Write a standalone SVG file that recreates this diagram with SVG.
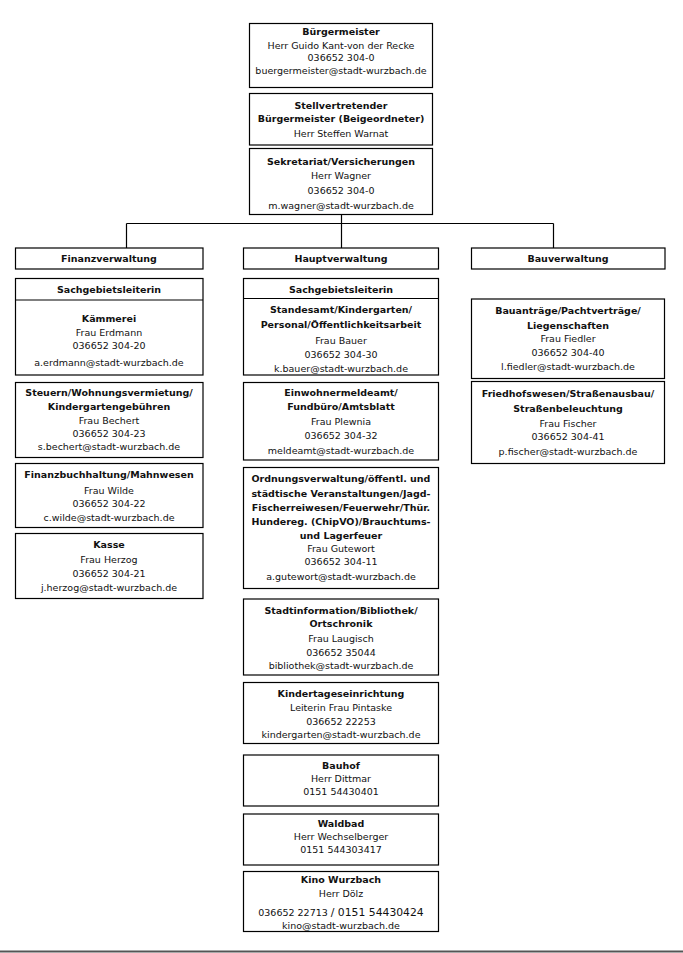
<svg xmlns="http://www.w3.org/2000/svg" width="683" height="953" viewBox="0 0 683 953">
<style>
rect.b{fill:#fff;stroke:#000;stroke-width:1.2}
line.s{stroke:#000;stroke-width:1.2}
.c{stroke:#000;stroke-width:1.2;fill:none}
text{font-family:"DejaVu Sans",Verdana,sans-serif;font-size:9.5px;text-anchor:middle;fill:#111}
text.t{font-weight:bold;font-size:9.5px}
</style>
<rect width="683" height="953" fill="#fff"/>
<g id="connectors">
<path class="c" d="M341.5 214.5V248M126.5 223.5H553.5M126.5 223.5V248M553.5 223.5V248"/>
</g>
<g id="buergermeister">
<rect class="b" x="249.5" y="23.5" width="183" height="64"/>
<text class="t" x="341" y="35">Bürgermeister</text>
<text x="341" y="48.5">Herr Guido Kant-von der Recke</text>
<text x="341" y="61">036652 304-0</text>
<text x="341" y="73.5">buergermeister@stadt-wurzbach.de</text>
</g>
<g id="stellvertreter">
<rect class="b" x="249.5" y="93.5" width="183" height="51.5"/>
<text class="t" x="341" y="109">Stellvertretender</text>
<text class="t" x="341" y="122">Bürgermeister (Beigeordneter)</text>
<text x="341" y="136.5">Herr Steffen Warnat</text>
</g>
<g id="sekretariat">
<rect class="b" x="249.5" y="148.5" width="183" height="66"/>
<text class="t" x="341" y="164.5">Sekretariat/Versicherungen</text>
<text x="341" y="179">Herr Wagner</text>
<text x="341" y="193.5">036652 304-0</text>
<text x="341" y="209">m.wagner@stadt-wurzbach.de</text>
</g>
<g id="finanzverwaltung">
<rect class="b" x="15.5" y="248" width="187.5" height="21"/>
<text class="t" x="109" y="261.5">Finanzverwaltung</text>
</g>
<g id="hauptverwaltung">
<rect class="b" x="243.5" y="248" width="195" height="21"/>
<text class="t" x="341" y="261.5">Hauptverwaltung</text>
</g>
<g id="bauverwaltung">
<rect class="b" x="471.5" y="248" width="193.5" height="21"/>
<text class="t" x="568" y="261.5">Bauverwaltung</text>
</g>
<g id="f-kaemmerei">
<rect class="b" x="15.5" y="278.5" width="187.5" height="96.5"/>
<line class="s" x1="15.5" y1="300" x2="203" y2="300"/>
<text class="t" x="109" y="292.5">Sachgebietsleiterin</text>
<text class="t" x="109" y="322">Kämmerei</text>
<text x="109" y="336">Frau Erdmann</text>
<text x="109" y="349">036652 304-20</text>
<text x="109" y="365.5">a.erdmann@stadt-wurzbach.de</text>
</g>
<g id="f-steuern">
<rect class="b" x="15.5" y="382.5" width="187.5" height="75"/>
<text class="t" x="109" y="396">Steuern/Wohnungsvermietung/</text>
<text class="t" x="109" y="409.5">Kindergartengebühren</text>
<text x="109" y="423.5">Frau Bechert</text>
<text x="109" y="437">036652 304-23</text>
<text x="109" y="450">s.bechert@stadt-wurzbach.de</text>
</g>
<g id="f-finanzbuchhaltung">
<rect class="b" x="15.5" y="463.5" width="187.5" height="64"/>
<text class="t" x="109" y="478">Finanzbuchhaltung/Mahnwesen</text>
<text x="109" y="493.5">Frau Wilde</text>
<text x="109" y="507">036652 304-22</text>
<text x="109" y="521">c.wilde@stadt-wurzbach.de</text>
</g>
<g id="f-kasse">
<rect class="b" x="15.5" y="533.5" width="187.5" height="65"/>
<text class="t" x="109" y="548">Kasse</text>
<text x="109" y="562.5">Frau Herzog</text>
<text x="109" y="577">036652 304-21</text>
<text x="109" y="591">j.herzog@stadt-wurzbach.de</text>
</g>
<g id="h-standesamt">
<rect class="b" x="243.5" y="278.5" width="195" height="96.5"/>
<line class="s" x1="243.5" y1="298.5" x2="438.5" y2="298.5"/>
<text class="t" x="341" y="292.5">Sachgebietsleiterin</text>
<text class="t" x="341" y="313">Standesamt/Kindergarten/</text>
<text class="t" x="341" y="328">Personal/Öffentlichkeitsarbeit</text>
<text x="341" y="343.5">Frau Bauer</text>
<text x="341" y="358">036652 304-30</text>
<text x="341" y="372">k.bauer@stadt-wurzbach.de</text>
</g>
<g id="h-einwohnermeldeamt">
<rect class="b" x="243.5" y="382.5" width="195" height="77.5"/>
<text class="t" x="341" y="396">Einwohnermeldeamt/</text>
<text class="t" x="341" y="410">Fundbüro/Amtsblatt</text>
<text x="341" y="425">Frau Plewnia</text>
<text x="341" y="439">036652 304-32</text>
<text x="341" y="453.5">meldeamt@stadt-wurzbach.de</text>
</g>
<g id="h-ordnungsverwaltung">
<rect class="b" x="243.5" y="467.5" width="195" height="121"/>
<text class="t" x="341" y="482">Ordnungsverwaltung/öffentl. und</text>
<text class="t" x="341" y="497">städtische Veranstaltungen/Jagd-</text>
<text class="t" x="341" y="511">Fischerreiwesen/Feuerwehr/Thür.</text>
<text class="t" x="341" y="525">Hundereg. (ChipVO)/Brauchtums-</text>
<text class="t" x="341" y="538.5">und Lagerfeuer</text>
<text x="341" y="552">Frau Gutewort</text>
<text x="341" y="565">036652 304-11</text>
<text x="341" y="579.5">a.gutewort@stadt-wurzbach.de</text>
</g>
<g id="h-stadtinformation">
<rect class="b" x="243.5" y="599" width="195" height="76"/>
<text class="t" x="341" y="613.5">Stadtinformation/Bibliothek/</text>
<text class="t" x="341" y="627">Ortschronik</text>
<text x="341" y="642">Frau Laugisch</text>
<text x="341" y="656">036652 35044</text>
<text x="341" y="669">bibliothek@stadt-wurzbach.de</text>
</g>
<g id="h-kindertageseinrichtung">
<rect class="b" x="243.5" y="682.5" width="195" height="61"/>
<text class="t" x="341" y="697">Kindertageseinrichtung</text>
<text x="341" y="711">Leiterin Frau Pintaske</text>
<text x="341" y="724.5">036652 22253</text>
<text x="341" y="738">kindergarten@stadt-wurzbach.de</text>
</g>
<g id="h-bauhof">
<rect class="b" x="243.5" y="755" width="195" height="51"/>
<text class="t" x="341" y="768.5">Bauhof</text>
<text x="341" y="782">Herr Dittmar</text>
<text x="341" y="794.5">0151 54430401</text>
</g>
<g id="h-waldbad">
<rect class="b" x="243.5" y="814" width="195" height="51"/>
<text class="t" x="341" y="827">Waldbad</text>
<text x="341" y="840">Herr Wechselberger</text>
<text x="341" y="852.5">0151 544303417</text>
</g>
<g id="h-kino">
<rect class="b" x="243.5" y="871.5" width="195" height="60"/>
<text class="t" x="341" y="882.5">Kino Wurzbach</text>
<text x="341" y="897">Herr Dölz</text>
<text x="341" y="915.5">036652 22713 <tspan font-size="10.8">/ 0151 54430424</tspan></text>
<text x="341" y="928.5">kino@stadt-wurzbach.de</text>
</g>
<g id="b-bauantraege">
<rect class="b" x="471.5" y="299" width="193" height="79.5"/>
<text class="t" x="568" y="313.5">Bauanträge/Pachtverträge/</text>
<text class="t" x="568" y="328.5">Liegenschaften</text>
<text x="568" y="342">Frau Fiedler</text>
<text x="568" y="356">036652 304-40</text>
<text x="568" y="370">l.fiedler@stadt-wurzbach.de</text>
</g>
<g id="b-friedhofswesen">
<rect class="b" x="471.5" y="381.5" width="193" height="82"/>
<text class="t" x="568" y="397">Friedhofswesen/Straßenausbau/</text>
<text class="t" x="568" y="412">Straßenbeleuchtung</text>
<text x="568" y="427">Frau Fischer</text>
<text x="568" y="440">036652 304-41</text>
<text x="568" y="455">p.fischer@stadt-wurzbach.de</text>
</g>
<line x1="0" y1="951.5" x2="683" y2="951.5" stroke="#555" stroke-width="2"/>
</svg>
